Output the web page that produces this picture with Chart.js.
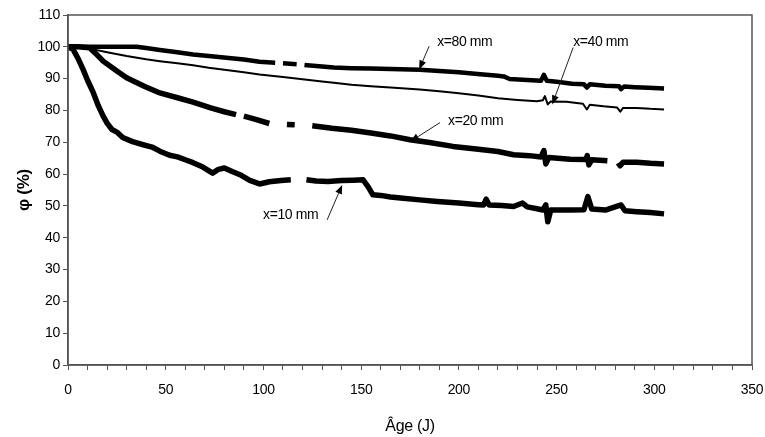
<!DOCTYPE html>
<html><head><meta charset="utf-8">
<script src="https://cdn.jsdelivr.net/npm/chart.js@4/dist/chart.umd.min.js"></script>
<style>html,body{margin:0;padding:0;background:#fff}</style>
</head><body>
<canvas id="c" width="765" height="437"></canvas>
<script>
// ---- data ----
const age80 = [0,10,20,30,35,40,47,55,64,72,81,90,98,106,108,110,117,119,121,130,136,145,155,165,180,190,200,211,220,223,226,235,242,243.5,245,250,258,264,265.5,267,275,282,283,284.5,290,297,305];
const phi80 = [100,100,100,100,100,99.6,99.0,98.4,97.6,97.1,96.6,96.0,95.3,95.0,null,94.8,94.5,null,94.3,93.8,93.5,93.3,93.2,93.0,92.8,92.4,92.0,91.4,90.9,90.7,89.9,89.6,89.3,91.2,89.3,89.0,88.4,88.2,87.2,88.2,87.8,87.6,86.7,87.5,87.3,87.1,86.9];

const age40 = [0,5,13,20,30,40,47,56,64,72,81,90,98,110,120,130,136,145,155,165,180,190,200,210,220,230,240,243,244,245.5,247,255,263.5,265.5,267,274,281,282.6,284,291,298,305];
const phi40 = [100,99.7,99.2,98.3,97.1,96.1,95.5,94.8,94.2,93.4,92.7,92.0,91.3,90.5,89.8,89.1,88.7,88.1,87.6,87.2,86.6,86.0,85.4,84.7,83.8,83.3,82.9,83.2,84.5,81.9,82.8,82.7,82.1,80.3,81.8,81.3,80.9,79.6,80.8,80.8,80.5,80.3];

const age20 = [0,5,11,14,18,25,30,35,39,47,56,64,73,80,86,88,90,96,103,108,112,116,120,125,135,145,155,165,175,185,197,210,220,228,236,242,243.5,244.5,246,257,265,265.7,266.5,268,274,276,279,281.5,282.5,284,291,298,305];
const phi20 = [100,100,99.7,98.0,95.5,92.4,90.3,88.8,87.6,85.5,84.0,82.6,80.8,79.6,78.7,null,78.2,77.2,75.9,null,75.6,75.5,null,75.2,74.4,73.8,72.9,72.0,70.8,69.9,68.7,67.8,67.1,66.1,65.8,65.4,67.4,63.2,65.2,64.7,64.6,65.8,62.9,64.5,64.3,64.2,null,63.5,62.6,63.7,63.7,63.4,63.2];

const age10 = [0,2.6,5,7.7,10,13,15.5,18,20,22.5,25,28,33,38,43,47,52,56,60,64,69,74,77,80,84,88,93,98,103,109,114,118,122,127,133,140,146,151,153.6,156,160,165,171.5,180,189,200,210,212.7,214,215.5,222,228,232.6,235,240,243,244.5,245.5,247,257,264,266,268,275,283,285,291,298,305];
const phi10 = [100,99.2,96.5,92.9,89.5,85.5,81.5,78.2,76.0,74.0,73.2,71.5,70.2,69.3,68.5,67.2,65.9,65.4,64.5,63.6,62.2,60.3,61.5,61.9,60.8,59.8,58.0,56.9,57.6,58.0,58.2,null,58.2,57.8,57.7,58.0,58.1,58.2,56.0,53.5,53.3,52.8,52.4,51.9,51.4,50.9,50.4,50.3,52.1,50.3,50.1,49.8,50.9,49.7,49.1,48.7,50.3,45.0,48.7,48.7,48.8,52.9,49.0,48.7,50.3,48.5,48.2,47.9,47.5];

const xTickValues = [0,50,100,150,200,250,300,350];
const yTickValues = [0,10,20,30,40,50,60,70,80,90,100,110];

const labelText = ['x=80 mm','x=40 mm','x=20 mm','x=10 mm'];
const labelAge  = [188.9, 258.5, 194.5, 99.8];
const labelPhi  = [101.4, 101.4, 76.5, 47.2];
const tailAge   = [184.8, 258.5, 190.4, 132.6];
const tailPhi   = [100.2, 99.8, 76.2, 45.6];
const tipAge    = [179.7, 247.8, 175.1, 140.3];
const tipPhi    = [92.9, 81.9, 70.2, 56.6];

function pts(a, p){ return a.map((x,i)=>({x:x, y:p[i]})); }

const FAM = '"Liberation Sans", Arial, sans-serif';

const spacingPlugin = {
  id:'spacing',
  beforeDraw(chart){ chart.ctx.letterSpacing = '-0.3px'; }
};
const framePlugin = {
  id:'frame',
  afterDraw(chart){
    const {ctx, chartArea:a} = chart;
    ctx.save();
    ctx.strokeStyle = '#555'; ctx.lineWidth = 1.5;
    ctx.strokeRect(a.left, a.top, a.right - a.left, a.bottom - a.top);
    ctx.restore();
  }
};
const annotPlugin = {
  id:'annot',
  afterDatasetsDraw(chart){
    const {ctx, scales:{x, y}} = chart;
    ctx.save();
    ctx.fillStyle = '#000'; ctx.strokeStyle = '#222';
    ctx.font = '14px ' + FAM;
    ctx.letterSpacing = '-0.4px';
    ctx.textAlign = 'left'; ctx.textBaseline = 'middle';
    for (let i = 0; i < labelText.length; i++) {
      ctx.fillStyle = '#000';
      ctx.fillText(labelText[i], x.getPixelForValue(labelAge[i]), y.getPixelForValue(labelPhi[i]));
      const x0 = x.getPixelForValue(tailAge[i]), y0 = y.getPixelForValue(tailPhi[i]);
      const x1 = x.getPixelForValue(tipAge[i]),  y1 = y.getPixelForValue(tipPhi[i]);
      const ang = Math.atan2(y1 - y0, x1 - x0);
      const L = 9, W = 3.5;
      const bx = x1 - L*Math.cos(ang), by = y1 - L*Math.sin(ang);
      ctx.lineWidth = 1;
      ctx.beginPath(); ctx.moveTo(x0, y0); ctx.lineTo(bx, by); ctx.stroke();
      ctx.beginPath();
      ctx.moveTo(x1, y1);
      ctx.lineTo(bx + W*Math.sin(ang), by - W*Math.cos(ang));
      ctx.lineTo(bx - W*Math.sin(ang), by + W*Math.cos(ang));
      ctx.closePath(); ctx.fill();
    }
    ctx.restore();
  }
};

const tickFont = {family:FAM, size:14};
const common = {borderColor:'#000', pointRadius:0, tension:0, spanGaps:false, borderJoinStyle:'round', borderCapStyle:'butt', fill:false};

new Chart(document.getElementById('c'), {
  type:'line',
  data:{ datasets:[
    Object.assign({label:'x=80 mm', data:pts(age80, phi80), borderWidth:4.5}, common),
    Object.assign({label:'x=40 mm', data:pts(age40, phi40), borderWidth:2}, common),
    Object.assign({label:'x=20 mm', data:pts(age20, phi20), borderWidth:5.5}, common),
    Object.assign({label:'x=10 mm', data:pts(age10, phi10), borderWidth:5.5}, common)
  ]},
  options:{
    responsive:false, animation:false, devicePixelRatio:1,
    layout:{padding:{top:15, right:13, left:0, bottom:0}},
    plugins:{legend:{display:false}, tooltip:{enabled:false}},
    scales:{
      x:{ type:'linear', min:0, max:350,
        afterFit(s){ s.height = 72; s.paddingLeft = 0; s.paddingRight = 0; },
        afterBuildTicks(s){ const t=[]; for(let v=0; v<=350; v+=10) t.push({value:v}); s.ticks = t; },
        ticks:{ autoSkip:false, maxRotation:0, color:'#000', font:tickFont, padding:12,
          callback:(v)=> xTickValues.includes(v) ? String(v) : '' },
        grid:{ drawOnChartArea:false, drawTicks:true, tickLength:5, color:'#555', lineWidth:1 },
        border:{ display:true, color:'#555', width:1.5 },
        title:{ display:true, text:'Âge (J)', color:'#000', font:{family:FAM, size:16}, padding:{top:0, bottom:1} }
      },
      y:{ type:'linear', min:0, max:110,
        afterFit(s){ s.width = 68; s.paddingTop = 0; s.paddingBottom = 0; },
        afterBuildTicks(s){ s.ticks = yTickValues.map(v=>({value:v})); },
        ticks:{ color:'#000', font:tickFont, padding:3 },
        grid:{ drawOnChartArea:false, drawTicks:true, tickLength:5, color:'#555', lineWidth:1 },
        border:{ display:true, color:'#555', width:1.5 },
        title:{ display:true, text:'φ (%)', color:'#000', font:{family:FAM, size:17, weight:'bold'}, padding:{top:14, bottom:0} }
      }
    }
  },
  plugins:[spacingPlugin, framePlugin, annotPlugin]
});
</script>
</body></html>
